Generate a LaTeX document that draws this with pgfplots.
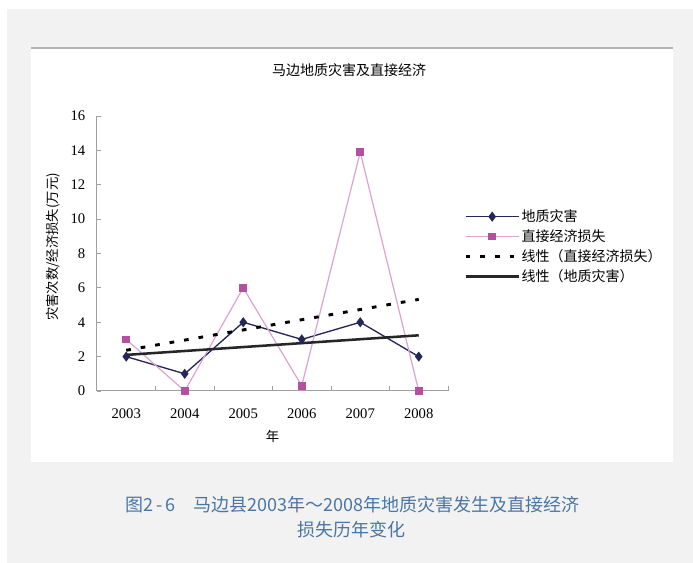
\documentclass[border=0pt]{standalone}
\usepackage{pgfplots}
\pgfplotsset{compat=1.18}
\usepackage{fontspec}
\setmainfont{Liberation Serif}
\newfontfamily\cjk{Noto Sans CJK SC}

\definecolor{bggray}{HTML}{F2F2F2}
\definecolor{panelline}{HTML}{B4B4B4}
\definecolor{axisgray}{HTML}{A0A0A0}
\definecolor{quakeColor}{HTML}{26265A}
\definecolor{lossLine}{HTML}{D9A3D4}
\definecolor{lossMark}{HTML}{B54FA0}
\definecolor{capColor}{HTML}{4A76A3}

\begin{document}
\begin{tikzpicture}
% page background (1px = 0.75pt)
\path[use as bounding box] (0,0) rectangle (519.75pt,422.25pt);
\fill[white] (0,0) rectangle (519.75pt,422.25pt);
\fill[bggray] (5.25pt,0) rectangle (519.75pt,415.5pt);
\fill[white] (23.25pt,75.75pt) rectangle (504.75pt,386.25pt);
\draw[panelline, line width=1.2pt] (23.25pt,386.25pt) -- (504.75pt,386.25pt);

\node[font=\cjk\fontsize{10.5pt}{12pt}\selectfont] at (261.75pt,369.75pt) {马边地质灾害及直接经济};

\node[font=\cjk\fontsize{13.5pt}{16pt}\selectfont, text=capColor] at (264.4pt,43.5pt)
  {图2\,-\,6\quad 马边县2003年～2008年地质灾害发生及直接经济};
\node[font=\cjk\fontsize{13.5pt}{16pt}\selectfont, text=capColor] at (263.5pt,24.75pt)
  {损失历年变化};

\begin{axis}[
    at={(72.75pt,129pt)}, anchor=south west,
    scale only axis,
    width=263.25pt, height=206.25pt,
    xmin=-0.5, xmax=5.5, ymin=0, ymax=16,
    axis lines*=left,
    axis line style={axisgray, line width=0.75pt},
    xtick={0,...,5},
    xticklabels={2003,2004,2005,2006,2007,2008},
    major x tick style={draw=none},
    minor xtick={0.5,1.5,2.5,3.5,4.5,5.5},
    ytick={0,2,...,16},
    tick align=inside,
    major tick length=3pt,
    minor tick length=4pt,
    tick style={axisgray, line width=0.6pt},
    ticklabel style={font=\fontsize{11pt}{12pt}\selectfont},
    /pgf/number format/assume math mode=true,
    xticklabel style={yshift=-10pt},
    yticklabel style={xshift=-5.3pt},
    xlabel={\cjk 年},
    ylabel={\cjk 灾害次数/经济损失(万元)},
    label style={font=\cjk\fontsize{10pt}{12pt}\selectfont},
    xlabel style={at={(axis description cs:0.5,0)}, anchor=center, yshift=-33.75pt},
    ylabel style={at={(axis description cs:-0.1254,0.524)}, anchor=center},
    legend style={at={(1.045,0.665)}, anchor=north west, draw=none, fill=none,
        inner sep=0pt, row sep=2.6pt,
        font=\cjk\fontsize{10.5pt}{12pt}\selectfont,
        nodes={inner sep=1pt}},
    legend cell align=left,
    legend image code/.code={\draw[mark repeat=2,mark phase=2,#1]
        plot coordinates {(0pt,0pt) (20pt,0pt) (40pt,0pt)};},
]
% 地质灾害
\addplot[quakeColor, line width=1pt, mark=diamond*, mark size=3pt,
    mark options={fill=quakeColor}]
    coordinates {(0,2) (1,1) (2,4) (3,3) (4,4) (5,2)};
% 直接经济损失
\addplot[lossLine, line width=0.9pt, mark=square*, mark size=2.4pt,
    mark options={draw=lossMark, fill=lossMark}]
    coordinates {(0,3) (1,0) (2,6) (3,0.3) (4,13.9) (5,0)};
% 线性（直接经济损失）
\addplot[black, line width=2.2pt, dash pattern=on 3.5pt off 7.5pt, no marks]
    coordinates {(0,2.37) (5,5.33)};
% 线性（地质灾害）
\addplot[black!85, line width=1.9pt, no marks]
    coordinates {(0,2.10) (5,3.24)};
\legend{地质灾害, 直接经济损失, 线性（直接经济损失）, 线性（地质灾害）}
\end{axis}
\end{tikzpicture}
\end{document}
